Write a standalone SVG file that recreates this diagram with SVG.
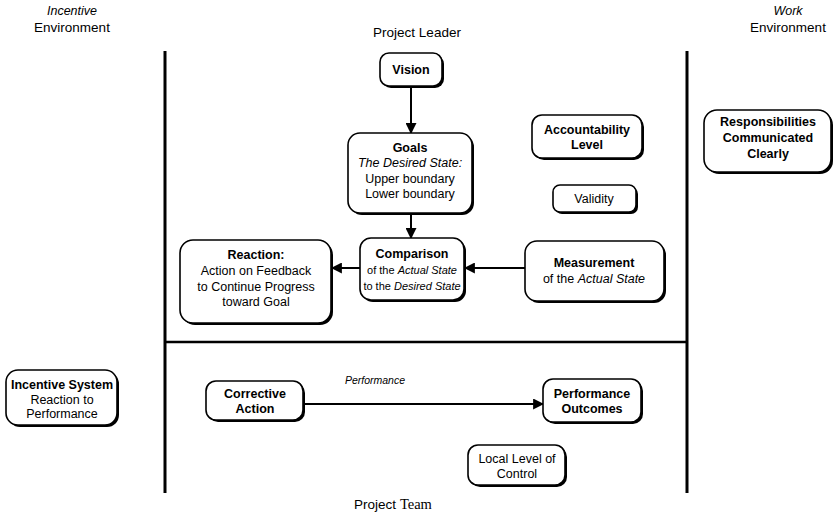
<svg xmlns="http://www.w3.org/2000/svg" width="836" height="516" viewBox="0 0 836 516">
  <style>
    .box { fill: #fff; stroke: #000; stroke-width: 1.6; }
    .shadow { fill: #000; }
    .t { font-family: "Liberation Sans", Arial, sans-serif; font-size: 12.5px; fill: #000; text-anchor: middle; }
    .b { font-weight: bold; }
    .i { font-style: italic; }
    .sm { font-size: 11px; }
    .hdr { font-family: "Liberation Sans", Arial, sans-serif; font-size: 13.5px; fill: #000; text-anchor: middle; }
    .hdr.i { font-size: 12.5px; }
    .wall { stroke: #000; stroke-width: 3; fill: none; }
    .edge { stroke: #000; stroke-width: 2; fill: none; }
  </style>
  <defs>
    <marker id="arrow" viewBox="0 0 10 10" refX="9" refY="5" markerWidth="5.5" markerHeight="5.5" orient="auto" markerUnits="strokeWidth">
      <path d="M0,0 L10,5 L0,10 Z" fill="#000"/>
    </marker>
  </defs>

  <!-- headings -->
  <g id="headings">
    <text class="hdr i" x="72" y="15">Incentive</text>
    <text class="hdr" x="72" y="32">Environment</text>
    <text class="hdr" x="417" y="37">Project Leader</text>
    <text class="hdr i" x="788" y="15">Work</text>
    <text class="hdr" x="788" y="32">Environment</text>
    <text class="hdr" x="393" y="509">Project <tspan style="font-family: 'Liberation Serif', serif; font-size: 14.5px">Team</tspan></text>
  </g>

  <!-- frame walls -->
  <g id="frame">
    <line class="wall" x1="165" y1="51" x2="165" y2="493"/>
    <line class="wall" x1="687" y1="51" x2="687" y2="493"/>
    <line class="wall" x1="165" y1="342" x2="687" y2="342" style="stroke-width: 2.5"/>
  </g>

  <!-- connectors -->
  <g id="connectors">
    <line class="edge" x1="411" y1="86" x2="411" y2="133" marker-end="url(#arrow)"/>
    <line class="edge" x1="411" y1="214" x2="411" y2="238" marker-end="url(#arrow)"/>
    <line class="edge" x1="360" y1="268" x2="332" y2="268" marker-end="url(#arrow)"/>
    <line class="edge" x1="525" y1="268" x2="465" y2="268" marker-end="url(#arrow)"/>
    <line class="edge" x1="305" y1="404" x2="543" y2="404" marker-end="url(#arrow)"/>
    <text class="t i" x="375" y="384" style="font-size: 10.5px">Performance</text>
  </g>

  <g id="vision">
    <rect class="shadow" x="382" y="55" width="62" height="33" rx="9"/>
    <rect class="box" x="380" y="53" width="62" height="33" rx="9"/>
    <text class="t b" x="411" y="74">Vision</text>
  </g>

  <g id="goals">
    <rect class="shadow" x="350" y="135" width="124" height="80" rx="12"/>
    <rect class="box" x="348" y="133" width="124" height="80" rx="12"/>
    <text class="t b" x="410" y="152">Goals</text>
    <text class="t i" x="410" y="167">The Desired State:</text>
    <text class="t" x="410" y="183">Upper boundary</text>
    <text class="t" x="410" y="198">Lower boundary</text>
  </g>

  <g id="comparison">
    <rect class="shadow" x="362" y="240" width="104" height="62" rx="11"/>
    <rect class="box" x="360" y="238" width="104" height="62" rx="11"/>
    <text class="t b" x="412" y="258">Comparison</text>
    <text class="t sm" x="412" y="274">of the <tspan class="i">Actual State</tspan></text>
    <text class="t sm" x="412" y="290">to the <tspan class="i">Desired State</tspan></text>
  </g>

  <g id="reaction">
    <rect class="shadow" x="182" y="242" width="151" height="83" rx="13"/>
    <rect class="box" x="180" y="240" width="151" height="83" rx="13"/>
    <text class="t b" x="256" y="259">Reaction:</text>
    <text class="t" x="256" y="275">Action on Feedback</text>
    <text class="t" x="256" y="291">to Continue Progress</text>
    <text class="t" x="256" y="306">toward Goal</text>
  </g>

  <g id="measurement">
    <rect class="shadow" x="527" y="243" width="139" height="60" rx="12"/>
    <rect class="box" x="525" y="241" width="139" height="60" rx="12"/>
    <text class="t b" x="594" y="267">Measurement</text>
    <text class="t" x="594" y="283">of the <tspan class="i">Actual State</tspan></text>
  </g>

  <g id="accountability">
    <rect class="shadow" x="534" y="117" width="110" height="43" rx="10"/>
    <rect class="box" x="532" y="115" width="110" height="43" rx="10"/>
    <text class="t b" x="587" y="134">Accountability</text>
    <text class="t b" x="587" y="149">Level</text>
  </g>

  <g id="validity">
    <rect class="shadow" x="555" y="187" width="83" height="27" rx="7"/>
    <rect class="box" x="553" y="185" width="83" height="27" rx="7"/>
    <text class="t" x="594" y="203">Validity</text>
  </g>

  <g id="responsibilities">
    <rect class="shadow" x="706" y="112" width="127" height="62" rx="13"/>
    <rect class="box" x="704" y="110" width="127" height="62" rx="13"/>
    <text class="t b" x="768" y="126">Responsibilities</text>
    <text class="t b" x="768" y="142">Communicated</text>
    <text class="t b" x="768" y="158">Clearly</text>
  </g>

  <g id="incentive-system">
    <rect class="shadow" x="8" y="372" width="111" height="55" rx="12"/>
    <rect class="box" x="6" y="370" width="111" height="55" rx="12"/>
    <text class="t b" x="62" y="389">Incentive System</text>
    <text class="t" x="62" y="404">Reaction to</text>
    <text class="t" x="62" y="418">Performance</text>
  </g>

  <g id="corrective-action">
    <rect class="shadow" x="208" y="383" width="97" height="39" rx="10"/>
    <rect class="box" x="206" y="381" width="97" height="39" rx="10"/>
    <text class="t b" x="255" y="398">Corrective</text>
    <text class="t b" x="255" y="413">Action</text>
  </g>

  <g id="performance-outcomes">
    <rect class="shadow" x="545" y="381" width="98" height="43" rx="10"/>
    <rect class="box" x="543" y="379" width="98" height="43" rx="10"/>
    <text class="t b" x="592" y="398">Performance</text>
    <text class="t b" x="592" y="413">Outcomes</text>
  </g>

  <g id="local-control">
    <rect class="shadow" x="470" y="447" width="97" height="40" rx="10"/>
    <rect class="box" x="468" y="445" width="97" height="40" rx="10"/>
    <text class="t" x="517" y="463">Local Level of</text>
    <text class="t" x="517" y="478">Control</text>
  </g>
</svg>
